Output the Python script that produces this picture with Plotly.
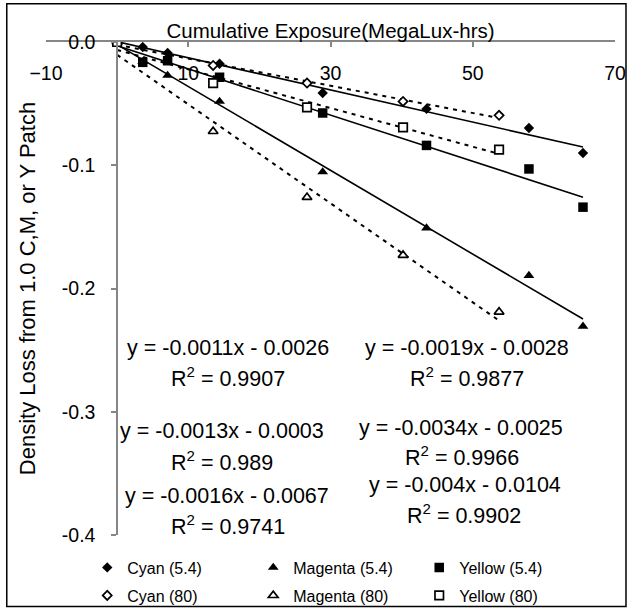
import numpy as np
import plotly.graph_objects as go

# ---------------- data ----------------
x_54 = [0, 3.6, 7.1, 14.4, 28.9, 43.5, 57.9, 65.5]
cyan_54 = [0, -0.0041, -0.0089, -0.0176, -0.0414, -0.0543, -0.0698, -0.0900]
magenta_54 = [0, -0.0160, -0.0271, -0.0482, -0.1054, -0.1510, -0.1895, -0.2307]
yellow_54 = [0, -0.0165, -0.0152, -0.0286, -0.0576, -0.0839, -0.1030, -0.1340]

x_80 = [0, 13.5, 26.7, 40.2, 53.7]
cyan_80 = [0, -0.0190, -0.0333, -0.0482, -0.0595]
magenta_80 = [0, -0.0725, -0.1260, -0.1730, -0.2190]
yellow_80 = [0, -0.0333, -0.0530, -0.0693, -0.0873]

x_tickvals = [-10, 10, 30, 50, 70]
y_tickvals = [0, -0.1, -0.2, -0.3, -0.4]
y_ticktext = ["0.0", "-0.1", "-0.2", "-0.3", "-0.4"]

equations = [
    "y = -0.0011x - 0.0026", "R<sup>2</sup> = 0.9907",
    "y = -0.0013x - 0.0003", "R<sup>2</sup> = 0.989",
    "y = -0.0016x - 0.0067", "R<sup>2</sup> = 0.9741",
    "y = -0.0019x - 0.0028", "R<sup>2</sup> = 0.9877",
    "y = -0.0034x - 0.0025", "R<sup>2</sup> = 0.9966",
    "y = -0.004x - 0.0104", "R<sup>2</sup> = 0.9902",
]
# ---------------- layout geometry (pixels) ----------------
W, H = 631, 611
L, R, T, B = 45.75, 615.0, 42.3, 535.5
FONT = "Arial, Liberation Sans, sans-serif"


def px_x(p):
    return (p - L) / (R - L)


def px_y(p):
    return (B - p) / (B - T)


fig = go.Figure()

series = [
    ("Cyan (5.4)", x_54, cyan_54, "diamond", 8, "black", 0, "solid", 1.6, "legend"),
    ("Magenta (5.4)", x_54, magenta_54, "triangle-up", 9.5, "black", 0, "solid", 1.6, "legend"),
    ("Yellow (5.4)", x_54, yellow_54, "square", 9.5, "black", 0, "solid", 1.6, "legend"),
    ("Cyan (80)", x_80, cyan_80, "diamond", 7, "white", 1.7, "4px,5px", 2, "legend2"),
    ("Magenta (80)", x_80, magenta_80, "triangle-up", 8.5, "white", 1.7, "4px,5px", 2, "legend2"),
    ("Yellow (80)", x_80, yellow_80, "square", 8.5, "white", 1.7, "4px,5px", 2, "legend2"),
]

# trendlines (least squares fit of each series), drawn first
for name, xs, ys, sym, sz, fill, lw, dash, tw, lg in series:
    m, c = np.polyfit(xs, ys, 1)
    xe = [min(xs), max(xs)]
    fig.add_trace(go.Scatter(
        x=xe, y=[m * v + c for v in xe], mode="lines",
        line=dict(color="black", width=tw, dash=dash),
        showlegend=False, hoverinfo="skip"))

for name, xs, ys, sym, sz, fill, lw, dash, tw, lg in series:
    fig.add_trace(go.Scatter(
        x=xs, y=ys, mode="markers", name=name, legend=lg,
        marker=dict(symbol=sym, size=sz, color=fill,
                    line=dict(color="black", width=lw))))

# equation annotations (pixel centers)
eq_pos = [
    (227.5, 348), (228, 377), (222, 431), (222, 461), (227, 496), (228, 525),
    (467, 348), (467, 377), (461, 428), (462, 456), (465, 485), (464, 514),
]
for txt, (px, py) in zip(equations, eq_pos):
    fig.add_annotation(x=px_x(px), y=px_y(py), xref="paper", yref="paper",
                       text=txt, showarrow=False, xanchor="center", yanchor="middle",
                       font=dict(family=FONT, size=21.5, color="black"))

# outer chart border
fig.add_shape(type="rect", xref="paper", yref="paper",
              x0=px_x(6.5), x1=px_x(626), y0=px_y(607), y1=px_y(4),
              line=dict(color="black", width=1.5), fillcolor="rgba(0,0,0,0)", layer="below")

axis_gray = "#868686"
fig.update_layout(
    width=W, height=H,
    margin=dict(l=L, r=W - R, t=T, b=H - B, pad=0, autoexpand=False),
    paper_bgcolor="white", plot_bgcolor="white",
    font=dict(family=FONT, color="black"),
    xaxis=dict(range=[-10, 70], tickvals=x_tickvals, side="top",
               ticks="inside", ticklen=5, tickcolor=axis_gray, tickwidth=1.5,
               ticklabelposition="inside", ticklabelstandoff=21,
               ticklabeloverflow="allow",
               showline=True, linecolor=axis_gray, linewidth=1.5,
               showgrid=False, zeroline=False, automargin=False,
               tickfont=dict(size=19.5, color="black"),
               title=dict(text="Cumulative Exposure(MegaLux-hrs)", standoff=18,
                          font=dict(size=20.5, color="black"))),
    yaxis=dict(range=[-0.4, 0], tickvals=y_tickvals, ticktext=y_ticktext,
               anchor="free", position=0.125,
               ticks="outside", ticklen=5, tickcolor=axis_gray, tickwidth=1.5,
               ticklabelstandoff=12, ticklabeloverflow="allow",
               showline=True, linecolor=axis_gray, linewidth=1.5,
               showgrid=False, zeroline=False, automargin=False,
               tickfont=dict(size=19.5, color="black"),
               title=dict(text="Density Loss from 1.0 C,M, or Y Patch", standoff=19,
                          font=dict(size=22, color="black"))),
    legend=dict(orientation="h", x=px_x(87), y=px_y(568), xanchor="left", yanchor="middle",
                entrywidth=121, itemwidth=30, font=dict(size=16), bgcolor="rgba(0,0,0,0)",
                traceorder="normal"),
    legend2=dict(orientation="h", x=px_x(87), y=px_y(596), xanchor="left", yanchor="middle",
                 entrywidth=121, itemwidth=30, font=dict(size=16), bgcolor="rgba(0,0,0,0)",
                 traceorder="normal"),
    showlegend=True,
)

fig.write_html("out.html")
